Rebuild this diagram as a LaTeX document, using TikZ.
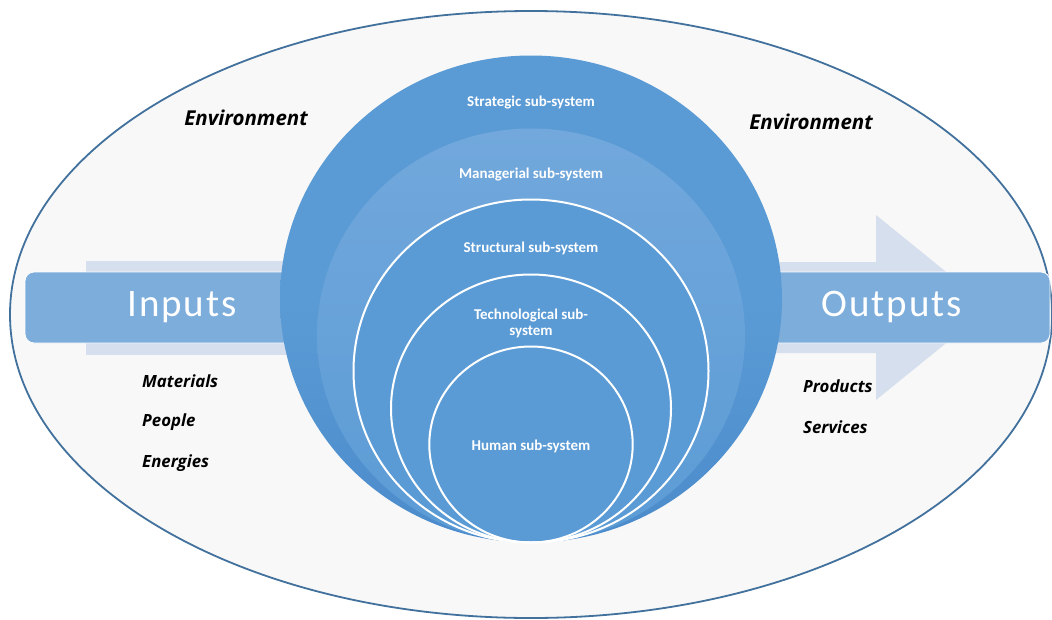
\documentclass[tikz,border=0pt]{standalone}
\usepackage{fontspec}
\setmainfont{Carlito}
\newfontfamily\opensans{Open Sans}
\newfontfamily\carlitols[LetterSpace=5]{Carlito}
\definecolor{ringblue}{HTML}{5B9BD5}
\definecolor{ringdark}{HTML}{4B8BCB}
\definecolor{ringlight}{HTML}{72A8DC}
\definecolor{barblue}{HTML}{7DADDB}
\definecolor{bandgray}{HTML}{D6DFEE}
\definecolor{envfill}{HTML}{F8F8F8}
\definecolor{envline}{HTML}{41719C}
\tikzset{
  ringlabel/.style={text=white, font=\bfseries\fontsize{15}{16}\selectfont, align=center, inner sep=0pt},
  bigword/.style={text=white, font=\carlitols\fontsize{39}{41}\selectfont, inner sep=0pt},
  envword/.style={font=\opensans\bfseries\itshape\fontsize{20.5}{23}\selectfont, inner sep=0pt},
  itemword/.style={font=\opensans\bfseries\itshape\fontsize{16.8}{19}\selectfont, inner sep=0pt, anchor=west},
  ringline/.style={draw=white, line width=2pt}
}
\begin{document}
\begin{tikzpicture}[x=1pt,y=-1pt]
\useasboundingbox (0,0) rectangle (1052,619);
% environment
\draw[fill=envfill, draw=envline, line width=1.8pt] (531,314.5) ellipse [x radius=521, y radius=303.5];
% light arrows behind
\fill[bandgray] (86,261) rectangle (320,355);
\fill[bandgray] (770,262) -- (876,262) -- (876,215) -- (990,307.5) -- (876,400) -- (876,353) -- (770,353) -- cycle;
% bars
\draw[fill=barblue, draw=white, line width=0.8pt, rounded corners=9pt] (25,272) rectangle (320,343);
\draw[fill=barblue, draw=white, line width=0.8pt, rounded corners=9pt] (760,272) rectangle (1050,343);
\node[bigword] (inputs) at (182,307) {Inputs};
\node[bigword] (outputs) at (892,307) {Outputs};
% circles
\shade[top color=ringblue, bottom color=ringdark, middle color=ringblue] (531,299) ellipse [x radius=251, y radius=243.5];
\shade[top color=ringlight, bottom color=ringblue] (531,335.5) ellipse [x radius=214, y radius=207];
\fill[ringblue] (531,371) ellipse [x radius=177.5, y radius=171.5];
\draw[ringline] (531,371) ellipse [x radius=177.5, y radius=171.5];
\draw[ringline] (531,408.5) ellipse [x radius=140, y radius=134];
\draw[ringline] (531,444.5) ellipse [x radius=101.7, y radius=98];
% labels
\node[ringlabel] (strategic) at (531,103) {Strategic sub-system};
\node[ringlabel] (managerial) at (531,175) {Managerial sub-system};
\node[ringlabel] (structural) at (531,248) {Structural sub-system};
\node[ringlabel] (technological) at (531,323) {Technological sub-\\system};
\node[ringlabel] (human) at (531,446) {Human sub-system};
\node[envword] (envL) at (246,118) {Environment};
\node[envword] (envR) at (811,122) {Environment};
\node[itemword] (materials) at (142,381) {Materials};
\node[itemword] (people) at (142,422) {People};
\node[itemword] (energies) at (142,463) {Energies};
\node[itemword] (products) at (803,386) {Products};
\node[itemword] (services) at (803,427) {Services};
\end{tikzpicture}
\end{document}
